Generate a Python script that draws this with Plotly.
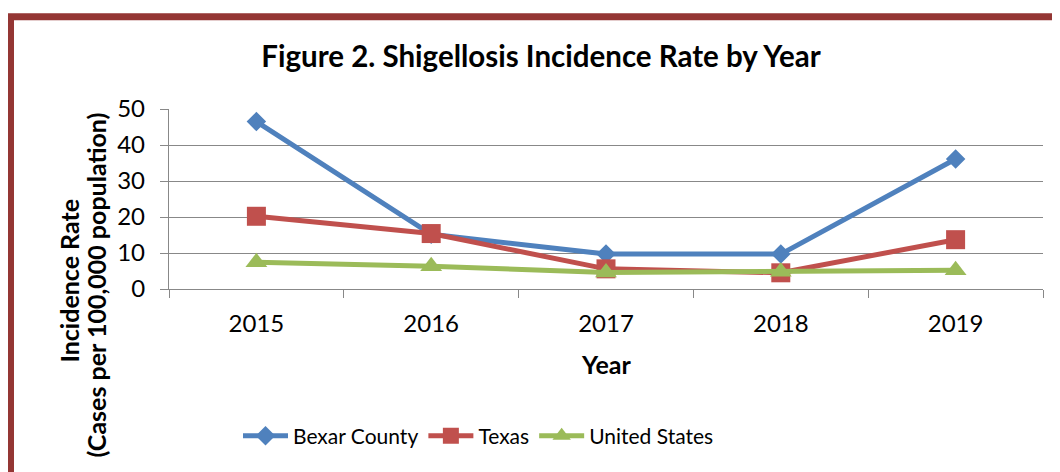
import plotly.graph_objects as go

years = ["2015", "2016", "2017", "2018", "2019"]
bexar = [46.5, 15.2, 9.7, 9.7, 36.1]
texas = [20.2, 15.4, 5.6, 4.5, 13.7]
us = [7.4, 6.3, 4.6, 4.8, 5.2]
y_ticks = [0, 10, 20, 30, 40, 50]

W, H = 1060, 472
OFF = 8  # page body margin
L, R, T, B = 169 - OFF, 1043 - OFF, 109 - OFF, 289.5 - OFF
FONT = "Lato"


def px_x(px):
    return (px - OFF - L) / (R - L)


def px_y(py):
    return (B - (py - OFF)) / (B - T)


fig = go.Figure()
series = [
    ("Bexar County", bexar, "#4F81BD", "diamond", 15),
    ("Texas", texas, "#C0504D", "square", 19),
    ("United States", us, "#9BBB59", "triangle-up", 19),
]
for name, vals, col, sym, sz in series:
    fig.add_trace(go.Scatter(
        x=years, y=vals, name=name, mode="lines+markers",
        line=dict(color=col, width=5),
        marker=dict(symbol=sym, size=sz, color=col, line=dict(width=0)),
    ))

fig.update_layout(
    width=W, height=H,
    margin=dict(l=L, r=W - R, t=T, b=H - B),
    paper_bgcolor="white", plot_bgcolor="white",
    font=dict(family=FONT, color="#000000", size=22),
    title=dict(text="<b>Figure 2. Shigellosis Incidence Rate by Year</b>",
               x=(541 - OFF) / W, xref="container", xanchor="center",
               y=1 - (57 - OFF) / H, yref="container", yanchor="middle",
               font=dict(family=FONT, size=29.5, color="#000000")),
    showlegend=True,
    legend=dict(orientation="h", x=px_x(238), xanchor="left",
                y=px_y(437), yanchor="middle",
                font=dict(family=FONT, size=21, color="#000000"),
                itemwidth=45, bgcolor="rgba(0,0,0,0)"),
    xaxis=dict(type="category", tickson="boundaries", ticks="outside",
               ticklen=8, tickcolor="#888888", tickwidth=1.3,
               showline=True, linecolor="#888888", linewidth=1.3,
               showgrid=False, zeroline=False,
               tickfont=dict(family=FONT, size=24),
               ticklabelstandoff=13,
               range=[-0.5, 4.5]),
    yaxis=dict(range=[0, 50], tickvals=y_ticks, ticks="outside",
               ticklen=8, tickcolor="#888888", tickwidth=1.3,
               showline=True, linecolor="#888888", linewidth=1.3,
               showgrid=True, gridcolor="#888888", gridwidth=1.3,
               zeroline=False, tickfont=dict(family=FONT, size=24),
               ticklabelstandoff=10),
)

fig.add_annotation(text="<b>Year</b>", xref="paper", yref="paper",
                   x=px_x(606), y=px_y(365), showarrow=False,
                   xanchor="center", yanchor="middle",
                   font=dict(family=FONT, size=25))
fig.add_annotation(text="<b>Incidence Rate</b>",
                   xref="paper", yref="paper", x=px_x(69), y=px_y(281),
                   showarrow=False, textangle=-90, xanchor="center",
                   yanchor="middle", font=dict(family=FONT, size=25))
fig.add_annotation(text="<b>(Cases per 100,000 population)</b>",
                   xref="paper", yref="paper", x=px_x(96), y=px_y(286),
                   showarrow=False, textangle=-90, xanchor="center",
                   yanchor="middle", font=dict(family=FONT, size=25))

# frame border (top and left edges visible)
fig.add_shape(type="path", xref="paper", yref="paper",
              path=f"M {px_x(10.5)},{px_y(490)} L {px_x(10.5)},{px_y(16.5)} L {px_x(1080)},{px_y(16.5)}",
              line=dict(color="#943634", width=7), layer="above")

fig.write_html("out.html")
